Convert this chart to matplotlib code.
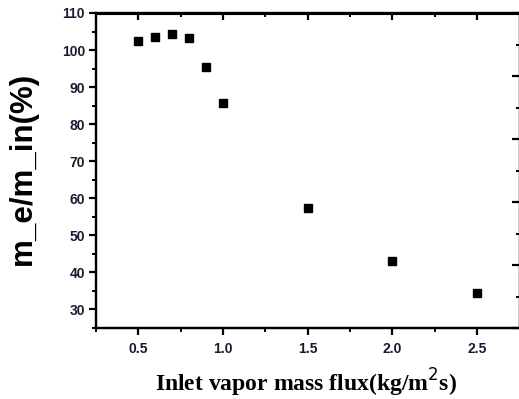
import matplotlib
matplotlib.use("Agg")
import matplotlib.pyplot as plt
from matplotlib.ticker import MultipleLocator, NullFormatter

flux = [0.5, 0.6, 0.7, 0.8, 0.9, 1.0, 1.5, 2.0, 2.5]
ratio = [102.4, 103.4, 104.2, 103.2, 95.3, 85.8, 57.5, 43.0, 34.5]

fig = plt.figure(figsize=(5.19, 3.99), dpi=100)
ax = fig.add_axes([96/519, 1-328/399, 1-96/519+0.001, (328-13)/399])

ax.plot(flux, ratio, linestyle='none', marker='s', ms=6, color='black')

ax.set_xlim(0.25, 2.75)
ax.set_ylim(25, 110)
ax.xaxis.set_major_locator(MultipleLocator(0.5))
ax.xaxis.set_minor_locator(MultipleLocator(0.25))
ax.yaxis.set_major_locator(MultipleLocator(10))
ax.yaxis.set_minor_locator(MultipleLocator(5))

for s in ax.spines.values():
    s.set_linewidth(1.6)
ax.spines['top'].set_linewidth(2.2)

ax.tick_params(axis='both', which='major', direction='out', length=5, width=1.6,
               top=False, right=False)
ax.tick_params(axis='both', which='minor', direction='out', length=3, width=1.4,
               top=False, right=False)
for lab in ax.get_xticklabels() + ax.get_yticklabels():
    lab.set_fontfamily('Liberation Sans')
    lab.set_fontweight('bold')
    lab.set_fontsize(10)
    lab.set_color('#1a1a33')
ax.tick_params(axis='x', pad=5)
ax.tick_params(axis='y', pad=3)

# top axis: inward ticks, no labels
top = ax.secondary_xaxis('top')
top.xaxis.set_major_locator(MultipleLocator(0.5))
top.xaxis.set_minor_locator(MultipleLocator(0.25))
top.tick_params(which='major', direction='in', length=5, width=1.6, labeltop=False)
top.tick_params(which='minor', direction='in', length=3, width=1.4)
top.xaxis.set_major_formatter(NullFormatter())
top.spines['top'].set_linewidth(2.2)

# right axis: inward ticks, no labels
right = ax.twinx()
right.set_ylim(0, 5)
right.yaxis.set_major_locator(MultipleLocator(1))
right.yaxis.set_minor_locator(MultipleLocator(0.5))
right.tick_params(which='major', direction='in', length=6, width=1.6, labelright=False)
right.tick_params(which='minor', direction='in', length=3, width=1.4)
for s in right.spines.values():
    s.set_linewidth(1.6)

ax.set_ylabel('m_e/m_in(%)', fontfamily='Liberation Sans', fontweight='bold',
              fontsize=22.5)
ax.yaxis.set_label_coords(-(96-38)/(519-96), (328-168)/315)
ax.set_xlabel('Inlet vapor mass flux(kg/m$^2$s)', fontfamily='Liberation Serif',
              fontweight='bold', fontsize=17)
ax.xaxis.set_label_coords((306-96)/(519-96), -(367-328)/315)

fig.savefig('out.png', dpi=100)
